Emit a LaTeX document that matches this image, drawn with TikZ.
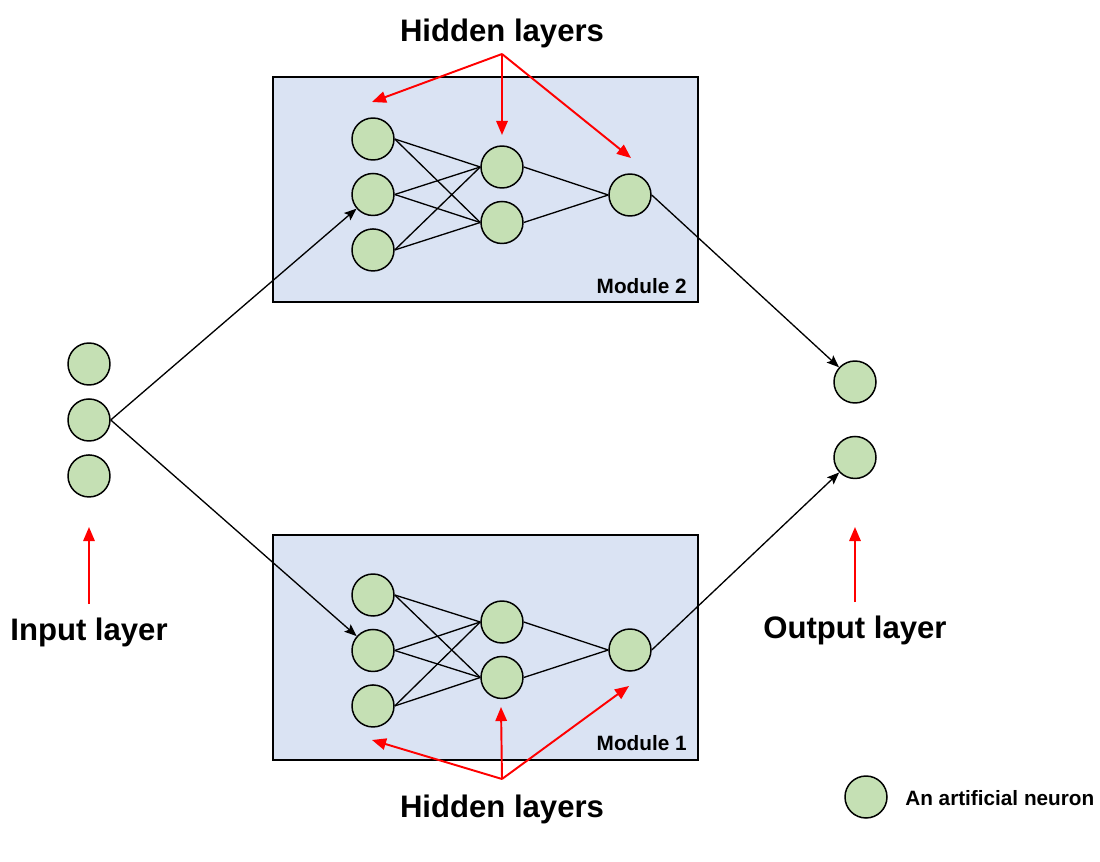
\documentclass[tikz,border=0pt]{standalone}
\usepackage{xcolor}
\usepackage{fontspec}
\setmainfont{Liberation Sans}
\usepackage{tikz}
\usetikzlibrary{arrows.meta,positioning}

\definecolor{boxblue}{HTML}{DAE3F3}
\definecolor{cellgreen}{HTML}{C5E0B4}

\begin{document}
\begin{tikzpicture}[
    x=0.02cm, y=-0.02cm,
    neuron/.style={
        circle,
        draw,
        fill=cellgreen,
        line width=0.85pt,
        inner sep=0pt,
        minimum size=0.84cm
    },
    module/.style={
        rectangle,
        draw,
        fill=boxblue,
        line width=1.1pt,
        minimum width=8.5cm,
        minimum height=4.5cm
    },
    biglabel/.style={font=\fontsize{17.7}{20}\selectfont\bfseries, inner sep=0pt},
    smalllabel/.style={font=\fontsize{11.8}{14}\selectfont\bfseries, inner sep=0pt},
    link/.style={line width=0.75pt},
    arrow/.style={->, >={Stealth[length=7pt,width=5.5pt,inset=1.4pt]}, line width=0.75pt},
    hint/.style={->, >={Triangle[length=8pt,width=6.5pt]}, red, line width=1.1pt}
]
    \useasboundingbox (0,0) rectangle (1100,862);

    % modules
    \node[module] (mod2) at (485.5,189.5) {};
    \node[module] (mod1) at (485.5,647.5) {};
    \node[smalllabel, anchor=base east] at ([xshift=-0.24cm, yshift=0.18cm]mod2.south east) {Module 2};
    \node[smalllabel, anchor=base east] at ([xshift=-0.24cm, yshift=0.2cm]mod1.south east) {Module 1};

    % input layer
    \node[neuron] (in1) at (89,364) {};
    \node[neuron, below=0.25cm of in1] (in2) {};
    \node[neuron, below=0.25cm of in2] (in3) {};

    % module 2
    \node[neuron] (m2a1) at (373,139) {};
    \node[neuron, below=0.24cm of m2a1] (m2a2) {};
    \node[neuron, below=0.24cm of m2a2] (m2a3) {};
    \node[neuron] (m2b1) at (502,167) {};
    \node[neuron, below=0.24cm of m2b1] (m2b2) {};
    \node[neuron] (m2c) at (630,195) {};

    % module 1
    \node[neuron] (m1a1) at (373,595) {};
    \node[neuron, below=0.24cm of m1a1] (m1a2) {};
    \node[neuron, below=0.24cm of m1a2] (m1a3) {};
    \node[neuron] (m1b1) at (502,622) {};
    \node[neuron, below=0.24cm of m1b1] (m1b2) {};
    \node[neuron] (m1c) at (630,650) {};

    % output layer
    \node[neuron] (out1) at (855,382) {};
    \node[neuron, below=0.64cm of out1] (out2) {};

    % legend
    \node[neuron] (key) at (866,797) {};
    \node[smalllabel, anchor=base west] (keytext) at (905,805) {An artificial neuron};

    % weights inside the modules
    \foreach \m in {1,2} {
        \foreach \i in {1,2,3} {
            \foreach \j in {1,2} {
                \draw[link] (m\m a\i.east) -- (m\m b\j.west);
            }
        }
        \draw[link] (m\m b1.east) -- (m\m c.west);
        \draw[link] (m\m b2.east) -- (m\m c.west);
    }

    \draw[arrow] (in2.east) -- (m2a2);
    \draw[arrow] (in2.east) -- (m1a2);
    \draw[arrow] (m2c.east) -- (out1);
    \draw[arrow] (m1c.east) -- (out2);

    % labels
    \node[biglabel, anchor=base] (toplbl) at (502,41) {Hidden layers};
    \node[biglabel, anchor=base] (botlbl) at (502,817) {Hidden layers};
    \node[biglabel, anchor=base] (inlbl) at (89,640) {Input layer};
    \node[biglabel, anchor=base] (outlbl) at (855,638) {Output layer};

    \coordinate (toproot) at (502,54);
    \coordinate (toptip1) at (372,102);
    \coordinate (toptip2) at (502,135);
    \coordinate (toptip3) at (631,158);
    \coordinate (botroot) at (502,779);
    \coordinate (bottip1) at (372,740);
    \coordinate (bottip2) at (501,707);
    \coordinate (bottip3) at (629,686);
    \coordinate (inroot) at (89,604);
    \coordinate (intip) at (89,527);
    \coordinate (outroot) at (855,602);
    \coordinate (outtip) at (855,527);

    \draw[hint] (toproot) -- (toptip1);
    \draw[hint] (toproot) -- (toptip2);
    \draw[hint] (toproot) -- (toptip3);
    \draw[hint] (botroot) -- (bottip1);
    \draw[hint] (botroot) -- (bottip2);
    \draw[hint] (botroot) -- (bottip3);
    \draw[hint] (inroot) -- (intip);
    \draw[hint] (outroot) -- (outtip);
\end{tikzpicture}
\end{document}
